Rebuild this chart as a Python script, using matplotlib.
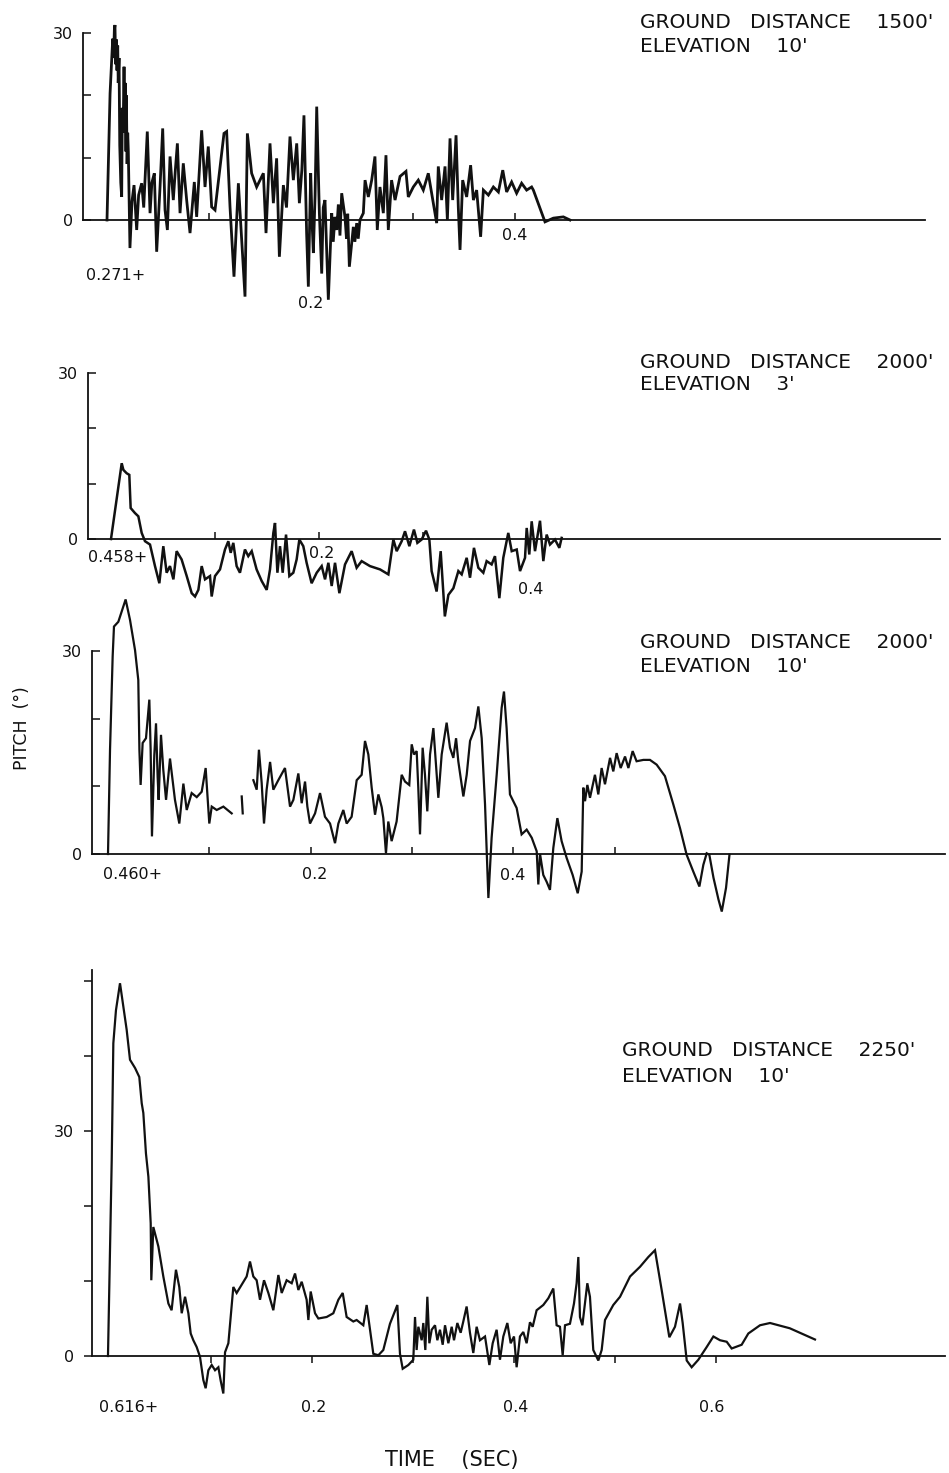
import matplotlib
matplotlib.use("Agg")
import matplotlib.pyplot as plt

# ---------------- data (time in s, pitch in degrees) ----------------
p1_time = [0.000, 0.003, 0.0056, 0.0065, 0.0072, 0.0078, 0.0085, 0.009, 0.0098, 0.0105,
           0.011, 0.0118, 0.0125, 0.0135, 0.0144, 0.0150, 0.0158, 0.0167, 0.0174, 0.018,
           0.0186, 0.019, 0.0197, 0.0203, 0.0209, 0.0225, 0.0245, 0.0265, 0.0291, 0.031,
           0.034, 0.036, 0.0395, 0.0422, 0.044, 0.0464, 0.0487, 0.052, 0.0546, 0.0569,
           0.0592, 0.0618, 0.065, 0.067, 0.069, 0.0716, 0.0748, 0.0781, 0.0814, 0.0856,
           0.0879, 0.0928, 0.0961, 0.0993, 0.1026, 0.1059, 0.1101, 0.1147, 0.1173, 0.1206,
           0.1245, 0.1288, 0.132, 0.1353, 0.1376, 0.1418, 0.1467, 0.150, 0.1533, 0.1559,
           0.1598, 0.1631, 0.1663, 0.169, 0.1729, 0.1760, 0.1794, 0.1827, 0.186, 0.1886,
           0.1910, 0.1931, 0.1957, 0.1974, 0.1997, 0.2012, 0.2023, 0.2040, 0.2056, 0.2082,
           0.2105, 0.2120, 0.2137, 0.2150, 0.217, 0.2203, 0.2218, 0.2235, 0.2252, 0.2268,
           0.2284, 0.2301, 0.2333, 0.2348, 0.2360, 0.2376, 0.2415, 0.2430, 0.2448, 0.2463,
           0.248, 0.2513, 0.2530, 0.2562, 0.2595, 0.2627, 0.265, 0.2676, 0.2709, 0.2735,
           0.2758, 0.279, 0.2824, 0.2873, 0.2931, 0.2954, 0.3003, 0.3052, 0.3101, 0.315,
           0.3183, 0.3232, 0.3248, 0.3281, 0.3314, 0.3337, 0.3363, 0.3389, 0.3422, 0.3444,
           0.3461, 0.3487, 0.3526, 0.3565, 0.3592, 0.3624, 0.3663, 0.369, 0.3739, 0.3788,
           0.3837, 0.388, 0.3918, 0.3967, 0.4016, 0.4065, 0.4114, 0.4163, 0.418, 0.4294,
           0.4376, 0.4474, 0.4539]
p1_pitch = [0.0, 20.3, 29.1, 26.0, 30.5, 31.3, 25.0, 29.0, 24.0, 28.0,
            22.0, 26.0, 12.0, 6.0, 3.7, 18.0, 14.0, 24.6, 15.0, 22.0,
            11.0, 20.0, 9.0, 14.0, 11.0, -4.5, 3.0, 5.6, -1.6, 4.0,
            5.9, 2.0, 14.2, 1.1, 6.0, 7.5, -5.1, 5.3, 14.7, 1.6,
            -1.6, 10.2, 3.2, 8.0, 12.3, 1.1, 9.1, 3.2, -2.1, 6.1,
            0.5, 14.4, 5.3, 11.8, 2.1, 1.6, 7.5, 13.9, 14.2, 2.1,
            -9.1, 5.9, -3.2, -12.3, 13.9, 7.5, 5.3, 6.4, 7.5, -2.1,
            12.3, 2.7, 9.9, -5.9, 5.6, 2.0, 13.4, 6.4, 12.3, 2.7,
            8.0, 16.8, -2.1, -10.7, 7.5, -1.0, -5.3, 4.0, 18.2, 1.1,
            -8.6, 2.0, 3.2, -3.0, -12.8, 1.1, -3.5, 0.5, -1.6, 2.5,
            -2.5, 4.3, 0.5, -3.0, 1.0, -7.5, -1.1, -3.5, -0.5, -3.0,
            0.0, 1.1, 6.4, 3.7, 6.4, 10.2, -1.6, 5.3, 1.1, 10.4,
            -1.6, 6.4, 3.2, 7.0, 7.8, 3.7, 5.3, 6.4, 4.8, 7.5,
            4.3, -0.5, 8.6, 3.2, 8.6, 0.0, 13.1, 3.2, 13.6, 2.1,
            -4.8, 6.4, 3.7, 8.8, 3.2, 4.8, -2.7, 4.8, 4.0, 5.3,
            4.5, 8.0, 4.5, 6.1, 4.3, 5.9, 4.8, 5.3, 4.8, -0.3,
            0.3, 0.5, 0.0]

p2_time = [0.0, 0.0103, 0.0119, 0.015, 0.0176, 0.0189, 0.023, 0.0263, 0.0295, 0.0327,
           0.0375, 0.0423, 0.0465, 0.0503, 0.0535, 0.0567, 0.060, 0.0631, 0.0679, 0.0728,
           0.0776, 0.0808, 0.084, 0.0872, 0.0904, 0.0952, 0.0968, 0.1, 0.1048, 0.1096,
           0.1128, 0.1151, 0.1176, 0.1208, 0.124, 0.1288, 0.132, 0.1353, 0.140, 0.1449,
           0.1497, 0.1529, 0.1561, 0.1577, 0.160, 0.1625, 0.1651, 0.1683, 0.1715, 0.1753,
           0.1785, 0.1811, 0.1849, 0.1881, 0.1929, 0.1978, 0.2026, 0.2058, 0.209, 0.2122,
           0.2154, 0.2196, 0.225, 0.2314, 0.2362, 0.2410, 0.249, 0.2587, 0.2667, 0.2715,
           0.2747, 0.2795, 0.2827, 0.2869, 0.2913, 0.2946, 0.2987, 0.3029, 0.3061, 0.3083,
           0.3131, 0.317, 0.321, 0.3244, 0.3292, 0.3340, 0.3372, 0.3420, 0.3452, 0.349,
           0.3532, 0.3580, 0.3612, 0.366, 0.3692, 0.3734, 0.3772, 0.382, 0.3853, 0.3901,
           0.3933, 0.3981, 0.3997, 0.4022, 0.4045, 0.4077, 0.4125, 0.4157, 0.4189, 0.4221,
           0.4269, 0.4311, 0.4333]
p2_pitch = [0.0, 13.7, 12.5, 11.9, 11.6, 5.6, 4.7, 4.1, 1.1, -0.4,
            -1.0, -4.9, -8.0, -1.3, -6.1, -4.9, -7.3, -2.2, -3.7, -6.7,
            -9.8, -10.4, -9.2, -4.9, -7.3, -6.7, -10.4, -6.7, -5.5, -1.9,
            -0.4, -2.5, -0.7, -4.9, -6.1, -1.9, -3.1, -2.2, -5.5, -7.6,
            -9.2, -5.5, 1.1, 2.9, -6.1, -1.3, -6.1, 0.8, -6.7, -6.1,
            -3.7, -0.1, -1.3, -4.3, -8.0, -6.1, -4.9, -7.3, -4.3, -8.5,
            -4.3, -9.8, -4.6, -2.2, -5.2, -4.0, -4.9, -5.5, -6.4, -0.1,
            -2.2, -0.4, 1.4, -1.3, 1.7, -0.7, -0.1, 1.5, -0.1, -5.8,
            -9.5, -2.2, -14.0, -10.1, -8.9, -5.8, -6.4, -3.4, -7.0, -1.6,
            -5.2, -6.1, -4.0, -4.6, -3.1, -10.7, -3.4, 1.1, -2.2, -1.9,
            -5.8, -3.4, 2.0, -2.8, 3.2, -2.2, 3.3, -4.0, 0.8, -1.0,
            -0.1, -1.6, 0.2]

NAN = float('nan')
p3_time = [0.0, 0.002, 0.0046, 0.0059, 0.0102, 0.0174, 0.0217, 0.0267, 0.0299, 0.031,
           0.0322, 0.0342, 0.0375, 0.0408, 0.0421, 0.0434, 0.0457, 0.0474, 0.049, 0.050,
           0.0523, 0.0546, 0.0573, 0.0612, 0.0661, 0.0704, 0.0744, 0.0777, 0.0826, 0.0876,
           0.0925, 0.0964, 0.100, 0.1024, 0.1073, 0.1139, 0.1221, NAN, 0.132, 0.133,
           NAN, 0.1435, 0.1468, 0.149, 0.1517, 0.154, 0.1566, 0.160, 0.1632, 0.1681,
           0.1747, 0.1797, 0.1830, 0.1879, 0.1912, 0.1945, 0.1968, 0.1994, 0.2044, 0.2093,
           0.2142, 0.2192, 0.2241, 0.2274, 0.2323, 0.2356, 0.2405, 0.2455, 0.2504, 0.2537,
           0.257, 0.2603, 0.2636, 0.2669, 0.2702, 0.2718, 0.2744, 0.2767, 0.280, 0.2849,
           0.2899, 0.2932, 0.2974, 0.2998, 0.3021, 0.3047, 0.3063, 0.3080, 0.3106, 0.3129,
           0.3152, 0.3179, 0.3212, 0.3238, 0.3261, 0.3294, 0.3343, 0.3376, 0.3409, 0.3436,
           0.3458, 0.3508, 0.3541, 0.3574, 0.3623, 0.3656, 0.3689, 0.3722, 0.3755, 0.3787,
           0.3837, 0.3886, 0.3909, 0.3935, 0.3968, 0.4001, 0.4034, 0.4083, 0.4133, 0.4183,
           0.4232, 0.4248, 0.4265, 0.4297, 0.433, 0.4363, 0.4396, 0.4436, 0.4478, 0.4528,
           0.4587, 0.4637, 0.4676, 0.4692, 0.4709, 0.4732, 0.4758, 0.4807, 0.484, 0.4873,
           0.4906, 0.4956, 0.4988, 0.5021, 0.5061, 0.5104, 0.5137, 0.5179, 0.5218, 0.5285,
           0.535, 0.5416, 0.5498, 0.5581, 0.5647, 0.5712, 0.5778, 0.5838, 0.5877, 0.5910,
           0.5936, 0.5977, 0.6026, 0.6059, 0.6101, 0.6135]
p3_pitch = [0.0, 15.4, 29.2, 33.6, 34.3, 37.6, 34.6, 30.1, 25.7, 15.4,
            10.2, 16.4, 17.1, 22.8, 15.4, 2.6, 14.6, 19.3, 11.4, 8.0,
            17.6, 12.4, 8.0, 14.1, 8.0, 4.5, 10.4, 6.5, 9.0, 8.4,
            9.2, 12.7, 4.5, 7.0, 6.5, 7.0, 6.0, NAN, 8.5, 6.0,
            NAN, 10.9, 9.5, 15.4, 10.5, 4.5, 9.5, 13.6, 9.5, 10.9,
            12.7, 7.0, 8.0, 11.9, 7.5, 10.7, 7.0, 4.5, 6.0, 9.0,
            5.5, 4.5, 1.6, 4.5, 6.5, 4.5, 5.5, 10.9, 11.7, 16.7,
            14.7, 9.8, 5.8, 8.8, 6.9, 5.3, 0.1, 4.8, 1.9, 4.8,
            11.7, 10.7, 10.2, 16.2, 14.7, 15.2, 9.8, 2.9, 15.7, 11.7,
            6.3, 14.7, 18.6, 13.2, 8.3, 14.7, 19.4, 15.7, 14.2, 17.1,
            13.7, 8.5, 11.7, 16.7, 18.6, 21.8, 17.1, 7.3, -6.5, 2.4,
            11.7, 21.6, 24.0, 18.6, 8.8, 7.8, 6.8, 2.9, 3.6, 2.4,
            0.4, -4.5, 0.0, -3.1, -4.1, -5.3, 0.9, 5.3, 1.9, -0.6,
            -3.1, -5.8, -2.6, 9.8, 7.8, 10.2, 8.3, 11.7, 8.8, 12.7,
            10.3, 14.2, 12.2, 14.9, 12.7, 14.4, 12.7, 15.2, 13.7, 13.9,
            13.9, 13.2, 11.5, 7.3, 3.8, -0.1, -2.6, -4.8, -1.6, 0.1,
            -0.1, -3.5, -6.7, -8.5, -5.0, -0.1]

p4_time = [-0.002, 0.0017, 0.0033, 0.0059, 0.0099, 0.0132, 0.0165, 0.0198, 0.0248, 0.029,
           0.0314, 0.033, 0.0356, 0.038, 0.0403, 0.0409, 0.0429, 0.0479, 0.0528, 0.0578,
           0.061, 0.0653, 0.0686, 0.071, 0.0743, 0.0776, 0.0799, 0.0825, 0.0858, 0.0891,
           0.0924, 0.0947, 0.0974, 0.1007, 0.104, 0.1073, 0.1096, 0.1122, 0.1139, 0.1172,
           0.1221, 0.1254, 0.1304, 0.1353, 0.1386, 0.1419, 0.1452, 0.1485, 0.1525, 0.1568,
           0.1617, 0.1667, 0.170, 0.1749, 0.1799, 0.1832, 0.1865, 0.1898, 0.1947, 0.1964,
           0.1987, 0.2030, 0.2063, 0.2145, 0.2211, 0.2261, 0.2304, 0.2343, 0.2409, 0.2442,
           0.2508, 0.2541, 0.2607, 0.2657, 0.2706, 0.2772, 0.2845, 0.2871, 0.2898, 0.2954,
           0.3003, 0.302, 0.3036, 0.3053, 0.3086, 0.3102, 0.3122, 0.3142, 0.3162, 0.3185,
           0.3218, 0.3241, 0.3267, 0.3294, 0.3317, 0.335, 0.3383, 0.3406, 0.3439, 0.3472,
           0.3498, 0.3531, 0.3564, 0.3597, 0.363, 0.3663, 0.3713, 0.3756, 0.3789, 0.3828,
           0.3861, 0.3894, 0.3934, 0.3967, 0.4000, 0.4026, 0.4059, 0.4092, 0.4125, 0.4158,
           0.4185, 0.4224, 0.429, 0.434, 0.4389, 0.4422, 0.4455, 0.4482, 0.4505, 0.4554,
           0.4594, 0.462, 0.4637, 0.4653, 0.4677, 0.4726, 0.4752, 0.4785, 0.4835, 0.4868,
           0.4901, 0.4983, 0.505, 0.5149, 0.5248, 0.533, 0.5396, 0.5462, 0.5538, 0.5594,
           0.5644, 0.567, 0.5710, 0.5759, 0.5825, 0.5908, 0.5974, 0.604, 0.6106, 0.6155,
           0.6254, 0.632, 0.6436, 0.6535, 0.673, 0.698]
p4_pitch = [0.0, 26.1, 41.7, 46.1, 49.7, 46.6, 43.5, 39.5, 38.4, 37.2,
            33.7, 32.4, 27.0, 23.9, 17.7, 10.1, 17.2, 14.6, 10.6, 7.0,
            6.1, 11.5, 9.2, 5.7, 7.9, 5.7, 3.0, 2.1, 1.2, -0.1,
            -3.2, -4.3, -1.9, -1.2, -1.9, -1.5, -3.3, -5.0, 0.5, 1.7,
            9.2, 8.4, 9.5, 10.6, 12.6, 10.6, 10.1, 7.5, 10.1, 8.4,
            6.1, 10.8, 8.4, 10.1, 9.7, 11.0, 8.8, 9.9, 7.5, 4.8,
            8.6, 5.7, 5.0, 5.2, 5.7, 7.5, 8.4, 5.2, 4.6, 4.8,
            4.1, 6.8, 0.3, 0.1, 0.8, 4.3, 6.8, 0.3, -1.7, -1.2,
            -0.5, 5.2, 0.8, 3.9, 2.1, 4.4, 0.8, 7.9, 1.7, 3.5,
            4.1, 2.1, 3.5, 1.5, 4.1, 1.7, 3.9, 2.1, 4.4, 3.1,
            4.6, 6.6, 3.1, 0.4, 3.9, 2.1, 2.6, -1.2, 1.7, 3.5,
            -0.5, 2.6, 4.4, 1.7, 2.6, -1.5, 2.6, 3.2, 1.7, 4.5,
            3.9, 6.1, 6.8, 7.7, 9.0, 4.1, 3.9, 0.1, 4.1, 4.3,
            7.0, 9.7, 13.2, 5.2, 4.1, 9.7, 7.9, 0.8, -0.6, 0.8,
            4.8, 6.8, 7.9, 10.6, 11.9, 13.2, 14.1, 8.8, 2.5, 3.9,
            7.0, 4.4, -0.6, -1.5, -0.5, 1.2, 2.6, 2.1, 1.9, 1.0,
            1.5, 3.0, 4.1, 4.4, 3.7, 2.2]

panel_titles = [("GROUND   DISTANCE    1500'", "ELEVATION    10'"),
                ("GROUND   DISTANCE    2000'", "ELEVATION    3'"),
                ("GROUND   DISTANCE    2000'", "ELEVATION    10'"),
                ("GROUND   DISTANCE    2250'", "ELEVATION    10'")]
start_labels = ["0.271+", "0.458+", "0.460+", "0.616+"]

# ---------------- figure ----------------
W, H = 949, 1473
fig = plt.figure(figsize=(W / 100, H / 100), dpi=100)
plt.rcParams['font.family'] = ['DejaVu Sans']
INK = '#111111'


def px_axes(t0, sx, y0, sy, xlim, ylim):
    left = t0 + sx * xlim[0]
    right = t0 + sx * xlim[1]
    top = y0 - sy * ylim[1]
    bottom = y0 - sy * ylim[0]
    ax = fig.add_axes([left / W, 1 - bottom / H, (right - left) / W, (bottom - top) / H])
    ax.set_xlim(*xlim)
    ax.set_ylim(*ylim)
    ax.patch.set_visible(False)
    for s in ('top', 'right'):
        ax.spines[s].set_visible(False)
    ax.spines['bottom'].set_position(('data', 0))
    ax.spines['bottom'].set_bounds(xlim[0], xlim[1])
    for s in ('bottom', 'left'):
        ax.spines[s].set_linewidth(1.3)
        ax.spines[s].set_color(INK)
    return ax


def ftext(x, y, s, size=11.5, ha='center', va='center', **kw):
    fig.text(x / W, 1 - y / H, s, ha=ha, va=va, fontsize=size, color=INK, **kw)


panels = [
    dict(g=(107, 1020, 220, 6.23), xlim=(-0.0235, 0.802), ylim=(-15, 32), ytop=30,
         yt=[0, 10, 20, 30], xt=[0.1, 0.2, 0.3, 0.4], xdir='in', ydir='in',
         t=p1_time, p=p1_pitch, lw=2.0),
    dict(g=(111, 1040, 539, 5.53), xlim=(-0.022, 0.797), ylim=(-15, 30.5), ytop=30,
         yt=[0, 10, 20, 30], xt=[0.1, 0.2, 0.3, 0.4], xdir='in', ydir='in',
         t=p2_time, p=p2_pitch, lw=1.8),
    dict(g=(108, 1013, 854, 6.77), xlim=(-0.0158, 0.826), ylim=(-10, 39), ytop=30,
         yt=[0, 10, 20, 30], xt=[0.1, 0.2, 0.3, 0.4, 0.5], xdir='in', ydir='in',
         t=p3_time, p=p3_pitch, lw=1.6),
    dict(g=(110, 1010, 1356, 7.5), xlim=(-0.0178, 0.827), ylim=(-7, 51.5), ytop=51.5,
         yt=[0, 10, 20, 30, 40, 50], xt=[0.1, 0.2, 0.3, 0.4, 0.5, 0.6], xdir='out', ydir='out',
         t=p4_time, p=p4_pitch, lw=1.6),
]

for i, P in enumerate(panels):
    assert len(P['t']) == len(P['p'])
    t0, sx, y0, sy = P['g']
    ax = px_axes(t0, sx, y0, sy, P['xlim'], P['ylim'])
    ax.spines['left'].set_bounds(0, P['ytop'])
    ax.plot(P['t'], P['p'], color=INK, lw=P['lw'], solid_joinstyle='miter', clip_on=False)
    ax.set_xticks(P['xt'])
    ax.tick_params(axis='x', direction=P['xdir'], length=5, width=1.1, labelbottom=False,
                   color=INK)
    ax.set_yticks(P['yt'])
    ax.set_yticklabels(['30' if v == 30 else ('0' if v == 0 else '') for v in P['yt']])
    ax.tick_params(axis='y', direction=P['ydir'], length=6, width=1.1, labelsize=11.5,
                   pad=7, color=INK, labelcolor=INK)

# time labels
ftext(116, 275, start_labels[0]); ftext(311, 303, "0.2"); ftext(515, 236, "0.4")
ftext(118, 558, start_labels[1]); ftext(322, 553, "0.2"); ftext(531, 590, "0.4")
ftext(133, 875, start_labels[2]); ftext(315, 875, "0.2"); ftext(513, 876, "0.4")
ftext(129, 1407, start_labels[3]); ftext(314, 1407, "0.2"); ftext(516, 1407, "0.4")
ftext(712, 1407, "0.6")

# panel titles
title_pos = [(640, 22, 47), (640, 362, 385), (640, 643, 666), (622, 1050, 1076)]
for (x, y1, y2), (l1, l2) in zip(title_pos, panel_titles):
    ftext(x, y1, l1, size=14.5, ha='left')
    ftext(x, y2, l2, size=14.5, ha='left')

# axis labels
ftext(22, 728, "PITCH  (°)", size=12.5, rotation=90)
ftext(452, 1460, "TIME    (SEC)", size=15)

fig.savefig("out.png", dpi=100, facecolor='white')
